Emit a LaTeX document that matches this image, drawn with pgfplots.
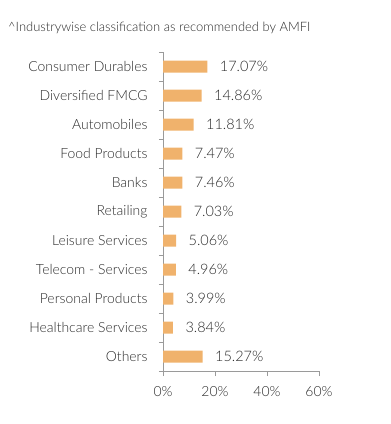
\documentclass[border=0pt]{standalone}
\usepackage{pgfplots}
\pgfplotsset{compat=1.18}
\usepackage{fontspec}
\setmainfont{Lato Light}
\definecolor{barc}{HTML}{F0B26C}
\definecolor{axc}{HTML}{9A9A9A}
\definecolor{txt}{HTML}{2A2A2A}
\begin{document}
\begin{tikzpicture}
\path[use as bounding box] (0,0) rectangle (391bp,424bp);
\node[anchor=west, text=txt, font=\fontsize{13}{15}\selectfont, inner sep=0] at (8bp,396bp) {\textasciicircum Industrywise classification as recommended by AMFI};
\begin{axis}[
  at={(163bp,53bp)}, anchor=south west,
  scale only axis, width=156bp, height=319bp,
  xbar, bar width=12bp,
  xmin=0, xmax=60, ymin=-0.5, ymax=10.5, y dir=reverse,
  axis x line*=bottom, axis y line*=left,
  axis line style={axc, -, line width=0.9pt},
  xtick={0,20,40,60},
  xticklabel={\pgfmathprintnumber{\tick}\%},
  ytick={0,...,10},
  yticklabels={Consumer Durables,Diversified FMCG,Automobiles,Food Products,Banks,Retailing,Leisure Services,Telecom - Services,Personal Products,Healthcare Services,Others},
  minor ytick={-0.5,0.5,...,10.5},
  major y tick style={draw=none},
  minor y tick style={axc, line width=0.9pt},
  major x tick style={axc, line width=0.9pt},
  tick align=outside,
  major tick length=5bp, minor tick length=4bp,
  yticklabel style={xshift=-7bp},
  xticklabel style={yshift=-7bp},
  tick label style={text=txt, font=\fontsize{14}{16}\selectfont},
  /pgf/number format/assume math mode=true,
  nodes near coords={\pgfmathprintnumber[fixed,precision=2,zerofill]{\pgfplotspointmeta}\%},
  nodes near coords style={anchor=west, xshift=9bp, text=txt, font=\fontsize{14.5}{16}\selectfont},
  point meta=x,
  clip=false,
]
\addplot[fill=barc, draw=none] coordinates {
(17.07,0) (14.86,1) (11.81,2) (7.47,3) (7.46,4) (7.03,5) (5.06,6) (4.96,7) (3.99,8) (3.84,9) (15.27,10)
};
\end{axis}
\end{tikzpicture}
\end{document}
